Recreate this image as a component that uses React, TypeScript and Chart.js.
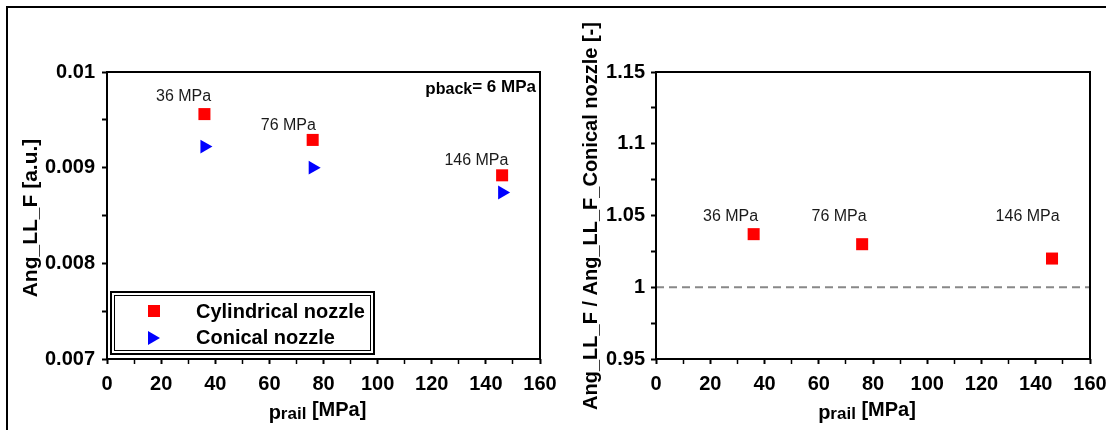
import React, { useEffect, useRef } from 'react';
import { Chart, registerables } from 'chart.js';

Chart.register(...registerables);

// ---------------- data ----------------
const railPressures = [36, 76, 146];
const cylindricalAng = [0.00956, 0.00929, 0.00892];
const conicalAng = [0.00922, 0.009, 0.00874];
const ratioAng = [1.037, 1.03, 1.02];
const pressureLabels = ['36 MPa', '76 MPa', '146 MPa'];
const referenceX = [0, 160];
const referenceY = [1, 1];

const xTickValues = [0, 10, 20, 30, 40, 50, 60, 70, 80, 90, 100, 110, 120, 130, 140, 150, 160];
const leftYTickValues = [0.007, 0.0075, 0.008, 0.0085, 0.009, 0.0095, 0.01];
const rightYTickValues = [0.95, 0.975, 1.0, 1.025, 1.05, 1.075, 1.1, 1.125, 1.15];

// annotation anchors (data units)
const leftLabelX = [28.3, 67, 136.5];
const leftLabelY = [0.00974, 0.009436, 0.009074];
const rightLabelX = [27.5, 67.5, 137];
const rightLabelY = [1.049, 1.049, 1.049];

const FONT = "Arial, 'Liberation Sans', sans-serif";

type Run = { text: string; size: number; weight?: string; dy?: number };

function drawRuns(ctx: CanvasRenderingContext2D, runs: Run[], x: number, y: number, align: 'left' | 'center' | 'right') {
  let total = 0;
  const widths = runs.map((r) => {
    ctx.font = `${r.weight || 'bold'} ${r.size}px ${FONT}`;
    const w = ctx.measureText(r.text).width;
    total += w;
    return w;
  });
  let cx = align === 'left' ? x : align === 'center' ? x - total / 2 : x - total;
  ctx.textAlign = 'left';
  ctx.textBaseline = 'alphabetic';
  runs.forEach((r, i) => {
    ctx.font = `${r.weight || 'bold'} ${r.size}px ${FONT}`;
    ctx.fillText(r.text, cx, y + (r.dy || 0));
    cx += widths[i];
  });
}

function drawRotated(ctx: CanvasRenderingContext2D, text: string, x: number, y: number, size: number) {
  ctx.save();
  ctx.translate(x, y);
  ctx.rotate(-Math.PI / 2);
  ctx.font = `bold ${size}px ${FONT}`;
  ctx.textAlign = 'center';
  ctx.textBaseline = 'middle';
  ctx.fillStyle = '#000';
  ctx.fillText(text, 0, 0);
  ctx.restore();
}

function frame(chart: any) {
  const { ctx, chartArea: a } = chart;
  ctx.save();
  ctx.strokeStyle = '#000';
  ctx.lineWidth = 2;
  ctx.strokeRect(a.left, a.top, a.right - a.left, a.bottom - a.top);
  ctx.restore();
}

function drawLabels(chart: any, xs: number[], ys: number[]) {
  const { ctx, scales } = chart;
  ctx.save();
  ctx.fillStyle = '#1a1a1a';
  ctx.font = `normal 16px ${FONT}`;
  ctx.textAlign = 'center';
  ctx.textBaseline = 'middle';
  pressureLabels.forEach((t, i) => {
    ctx.fillText(t, scales.x.getPixelForValue(xs[i]), scales.y.getPixelForValue(ys[i]));
  });
  ctx.restore();
}

function xTitle(chart: any) {
  const { ctx, chartArea: a } = chart;
  ctx.save();
  ctx.fillStyle = '#000';
  drawRuns(
    ctx,
    [
      { text: 'p', size: 20, dy: 3 },
      { text: 'rail', size: 17, dy: 3 },
      { text: ' [MPa]', size: 20 },
    ],
    (a.left + a.right) / 2 - 6,
    416,
    'center'
  );
  ctx.restore();
}

const leftDecor = {
  id: 'leftDecor',
  afterDraw(chart: any) {
    const { ctx } = chart;
    frame(chart);
    drawLabels(chart, leftLabelX, leftLabelY);
    xTitle(chart);
    drawRotated(ctx, 'Ang_LL_F [a.u.]', 31, 218, 21);
    // p_back annotation
    ctx.save();
    ctx.fillStyle = '#000';
    drawRuns(
      ctx,
      [
        { text: 'p', size: 17, dy: 2 },
        { text: 'back', size: 16, dy: 2 },
        { text: '= 6 MPa', size: 17 },
      ],
      536,
      92,
      'right'
    );
    ctx.restore();
    // legend
    ctx.save();
    ctx.strokeStyle = '#000';
    ctx.fillStyle = '#fff';
    ctx.fillRect(110, 291, 265, 64);
    ctx.lineWidth = 2;
    ctx.strokeRect(111, 292, 263, 62);
    ctx.lineWidth = 1;
    ctx.strokeRect(114.5, 295.5, 256, 55);
    ctx.fillStyle = '#ff0000';
    ctx.fillRect(148, 305, 12, 12);
    ctx.fillStyle = '#0000ff';
    ctx.beginPath();
    ctx.moveTo(160, 338);
    ctx.lineTo(148, 331);
    ctx.lineTo(148, 345);
    ctx.closePath();
    ctx.fill();
    ctx.fillStyle = '#000';
    ctx.font = `bold 20px ${FONT}`;
    ctx.textAlign = 'left';
    ctx.textBaseline = 'middle';
    ctx.fillText('Cylindrical nozzle', 196, 312);
    ctx.fillText('Conical nozzle', 196, 338);
    ctx.restore();
  },
};

const rightDecor = {
  id: 'rightDecor',
  afterDraw(chart: any) {
    const { ctx } = chart;
    frame(chart);
    drawLabels(chart, rightLabelX, rightLabelY);
    xTitle(chart);
    drawRotated(ctx, 'Ang_LL_F / Ang_LL_F_Conical nozzle [-]', 38, 216, 20);
  },
};

function xScale() {
  return {
    type: 'linear',
    min: 0,
    max: 160,
    afterBuildTicks: (s: any) => {
      s.ticks = xTickValues.map((v) => ({ value: v }));
    },
    afterFit: (s: any) => {
      s.height = 71;
      s.paddingLeft = 0;
      s.paddingRight = 0;
    },
    border: { display: false },
    grid: {
      drawOnChartArea: false,
      drawTicks: true,
      tickLength: 5,
      tickColor: '#000',
      tickWidth: (c: any) => (c.tick && c.tick.value % 20 === 0 ? 2 : 1.5),
    },
    ticks: {
      autoSkip: false,
      maxRotation: 0,
      minRotation: 0,
      padding: 8,
      color: '#000',
      font: { family: FONT, size: 20, weight: 'bold' },
      callback: (v: any) => (Number(v) % 20 === 0 ? String(v) : ''),
    },
  };
}

function yScale(min: number, max: number, values: number[], major: number, digits: number, width: number, pad: number) {
  return {
    type: 'linear',
    min,
    max,
    afterBuildTicks: (s: any) => {
      s.ticks = values.map((v) => ({ value: v }));
    },
    afterFit: (s: any) => {
      s.width = width;
      s.paddingTop = 0;
      s.paddingBottom = 0;
    },
    border: { display: false },
    grid: {
      drawOnChartArea: false,
      drawTicks: true,
      tickLength: 5,
      tickColor: '#000',
      tickWidth: 2,
    },
    ticks: {
      autoSkip: false,
      padding: pad,
      color: '#000',
      font: { family: FONT, size: 20, weight: 'bold' },
      callback: (v: any) => {
        const n = Number(v) / major;
        return Math.abs(n - Math.round(n)) < 1e-6 ? String(Number(Number(v).toFixed(digits))) : '';
      },
    },
  };
}

export default function App() {
  const leftRef = useRef<HTMLCanvasElement>(null);
  const rightRef = useRef<HTMLCanvasElement>(null);

  useEffect(() => {
    const left = new Chart(leftRef.current as HTMLCanvasElement, {
      type: 'scatter',
      data: {
        datasets: [
          {
            label: 'Cylindrical nozzle',
            data: railPressures.map((p, i) => ({ x: p, y: cylindricalAng[i] })),
            pointStyle: 'rect',
            pointRadius: 8.5,
            backgroundColor: '#ff0000',
            borderWidth: 0,
          },
          {
            label: 'Conical nozzle',
            data: railPressures.map((p, i) => ({ x: p, y: conicalAng[i] })),
            pointStyle: 'triangle',
            rotation: 90,
            pointRadius: 8,
            backgroundColor: '#0000ff',
            borderWidth: 0,
          },
        ],
      },
      options: {
        animation: false,
        responsive: false,
        layout: { padding: { top: 72, right: 30, left: 0, bottom: 0 } },
        plugins: { legend: { display: false }, tooltip: { enabled: false } },
        scales: {
          x: xScale() as any,
          y: yScale(0.007, 0.01, leftYTickValues, 0.001, 3, 107, 7) as any,
        },
      },
      plugins: [leftDecor],
    });

    const right = new Chart(rightRef.current as HTMLCanvasElement, {
      type: 'scatter',
      data: {
        datasets: [
          {
            type: 'line',
            label: 'reference',
            data: referenceX.map((x, i) => ({ x, y: referenceY[i] })),
            borderColor: '#888888',
            borderWidth: 2,
            borderDash: [8, 5],
            pointRadius: 0,
            fill: false,
          } as any,
          {
            label: 'ratio',
            data: railPressures.map((p, i) => ({ x: p, y: ratioAng[i] })),
            pointStyle: 'rect',
            pointRadius: 8.5,
            backgroundColor: '#ff0000',
            borderWidth: 0,
          },
        ],
      },
      options: {
        animation: false,
        responsive: false,
        layout: { padding: { top: 72, right: 16, left: 0, bottom: 0 } },
        plugins: { legend: { display: false }, tooltip: { enabled: false } },
        scales: {
          x: xScale() as any,
          y: yScale(0.95, 1.15, rightYTickValues, 0.05, 2, 103, 6) as any,
        },
      },
      plugins: [rightDecor],
    });

    return () => {
      left.destroy();
      right.destroy();
    };
  }, []);

  return (
    <div style={{ position: 'absolute', left: 0, top: 0, width: 1106, height: 430, background: '#fff', overflow: 'hidden' }}>
      <canvas ref={rightRef} width={553} height={430} style={{ position: 'absolute', left: 553, top: 0, width: 553, height: 430 }} />
      <canvas ref={leftRef} width={570} height={430} style={{ position: 'absolute', left: 0, top: 0, width: 570, height: 430 }} />
      <div style={{ position: 'absolute', left: 6, top: 6, width: 1106, height: 430, borderLeft: '2px solid #000', borderTop: '2px solid #000', pointerEvents: 'none' }} />
    </div>
  );
}
